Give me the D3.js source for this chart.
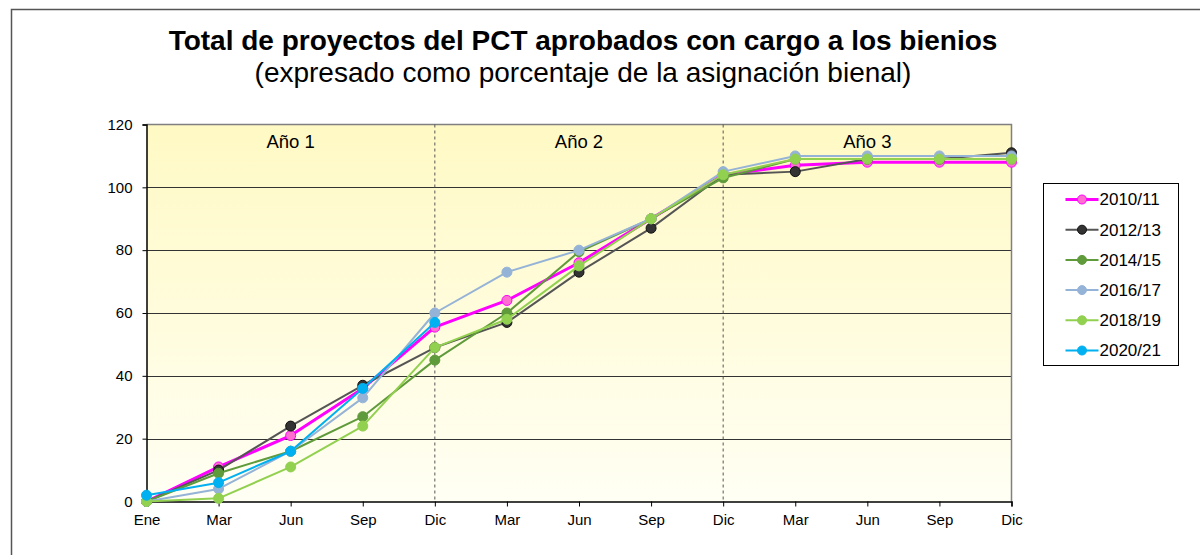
<!DOCTYPE html>
<html>
<head>
<meta charset="utf-8">
<script src="https://cdn.jsdelivr.net/npm/d3@7"></script>
<style>
  body { margin: 0; background: #fff; }
  text { font-family: "Liberation Sans", Arial, sans-serif; fill: #000; }
</style>
</head>
<body>
<script>
// Months along the x axis (three years of a biennium)
const months = ["Ene", "Mar", "Jun", "Sep", "Dic", "Mar", "Jun", "Sep", "Dic", "Mar", "Jun", "Sep", "Dic"];
const yTicks = [0, 20, 40, 60, 80, 100, 120];
const yearLabels = ["Año 1", "Año 2", "Año 3"];

// Series (percent of biennial allocation)
const s2010 = [0, 11, 21, 36, 55.5, 64, 76, 90, 104, 107, 108, 108, 108];
const s2012 = [0, 10, 24, 37, 49, 57, 73, 87, 104, 105, 109, 109, 111];
const s2014 = [0, 9, 16, 27, 45, 60, 79.5, 90, 103, 109, 109, 109, 109];
const s2016 = [0, 4, 16, 33, 60, 73, 80, 90, 105, 110, 110, 110, 110];
const s2018 = [0, 1, 11, 24, 49, 58, 75, 90, 104, 109, 109, 109, 109];
const s2020 = [2, 6, 16, 36, 57];

const series = [
  {name: "2010/11", values: s2010, line: "#ff00ff", fill: "#ff6fd0", stroke: "#ff00ff", w: 3},
  {name: "2012/13", values: s2012, line: "#555555", fill: "#333333", stroke: "#111111", w: 2},
  {name: "2014/15", values: s2014, line: "#5f9a3b", fill: "#5f9a3b", stroke: "#5f9a3b", w: 2},
  {name: "2016/17", values: s2016, line: "#95b3d7", fill: "#95b3d7", stroke: "#95b3d7", w: 2},
  {name: "2018/19", values: s2018, line: "#92d050", fill: "#92d050", stroke: "#92d050", w: 2},
  {name: "2020/21", values: s2020, line: "#00b0f0", fill: "#00b0f0", stroke: "#00b0f0", w: 2}
];

const width = 1200, height = 555;
const plot = {left: 146.5, right: 1011.5, top: 124.5, bottom: 501.5};

const svg = d3.select("body").append("svg")
    .attr("width", width)
    .attr("height", height);

// outer chart frame
svg.append("rect")
    .attr("x", 11.5).attr("y", 9.5)
    .attr("width", 1300).attr("height", 700)
    .attr("fill", "none").attr("stroke", "#555").attr("stroke-width", 1.5);

// background gradient
const grad = svg.append("defs").append("linearGradient")
    .attr("id", "bg").attr("x1", 0).attr("y1", 0).attr("x2", 0).attr("y2", 1);
grad.append("stop").attr("offset", "0%").attr("stop-color", "#fff9c4");
grad.append("stop").attr("offset", "100%").attr("stop-color", "#fffff4");

const x = d3.scalePoint().domain(d3.range(months.length)).range([plot.left, plot.right]);
const y = d3.scaleLinear().domain([0, 120]).range([plot.bottom, plot.top]);

svg.append("rect")
    .attr("x", plot.left).attr("y", plot.top)
    .attr("width", plot.right - plot.left).attr("height", plot.bottom - plot.top)
    .attr("fill", "url(#bg)");

// horizontal gridlines
svg.append("g").selectAll("line")
  .data(yTicks.filter(t => t > 0 && t < 120))
  .enter().append("line")
    .attr("x1", plot.left).attr("x2", plot.right)
    .attr("y1", d => Math.round(y(d)) + 0.5).attr("y2", d => Math.round(y(d)) + 0.5)
    .attr("stroke", "#333").attr("stroke-width", 1.2);

// plot frame top/right
svg.append("path")
    .attr("d", `M${plot.left},${plot.top}H${plot.right}V${plot.bottom}`)
    .attr("fill", "none").attr("stroke", "#808080").attr("stroke-width", 1.5);

// dashed year separators
svg.append("g").selectAll("line")
  .data([4, 8])
  .enter().append("line")
    .attr("x1", d => x(d)).attr("x2", d => x(d))
    .attr("y1", plot.top).attr("y2", plot.bottom)
    .attr("stroke", "#555").attr("stroke-width", 1).attr("stroke-dasharray", "3,3");

// year labels
svg.append("g").selectAll("text")
  .data(yearLabels)
  .enter().append("text")
    .attr("x", (d, i) => (x(i * 4) + x(i * 4 + 4)) / 2)
    .attr("y", 148)
    .attr("text-anchor", "middle")
    .attr("font-size", 18.5)
    .text(d => d);

// axes
const yAxis = svg.append("g")
    .attr("transform", `translate(${plot.left},0)`)
    .call(d3.axisLeft(y).tickValues(yTicks).tickSize(4).tickPadding(10));
yAxis.attr("font-size", 15).attr("font-family", "Liberation Sans, Arial, sans-serif");
yAxis.select(".domain").attr("stroke", "#000").attr("stroke-width", 1.5);
yAxis.selectAll(".tick line").attr("stroke", "#000");

const xAxis = svg.append("g")
    .attr("transform", `translate(0,${plot.bottom})`)
    .call(d3.axisBottom(x).tickFormat(i => months[i]).tickSize(5).tickPadding(8));
xAxis.attr("font-size", 15).attr("font-family", "Liberation Sans, Arial, sans-serif");
xAxis.select(".domain").attr("stroke", "#000").attr("stroke-width", 1.5);
xAxis.selectAll(".tick line").attr("stroke", "#000");

// lines and markers
const line = d3.line().x((d, i) => x(i)).y(d => y(d));

const sg = svg.append("g").selectAll("g.series")
  .data(series)
  .enter().append("g").attr("class", "series");

sg.append("path")
    .attr("d", d => line(d.values))
    .attr("fill", "none")
    .attr("stroke", d => d.line)
    .attr("stroke-width", d => d.w)
    .attr("stroke-linejoin", "round");

sg.each(function(s) {
  d3.select(this).selectAll("circle")
    .data(s.values)
    .enter().append("circle")
      .attr("cx", (d, i) => x(i))
      .attr("cy", d => y(d))
      .attr("r", 5)
      .attr("fill", s.fill)
      .attr("stroke", s.stroke)
      .attr("stroke-width", 1);
});

// legend
const legend = svg.append("g").attr("transform", "translate(1043.5,183.5)");
legend.append("rect")
    .attr("width", 135).attr("height", 182)
    .attr("fill", "#fff").attr("stroke", "#000").attr("stroke-width", 1);

const li = legend.selectAll("g.item")
  .data(series)
  .enter().append("g").attr("class", "item")
    .attr("transform", (d, i) => `translate(0,${16 + i * 30.2})`);
li.append("line")
    .attr("x1", 22).attr("x2", 55)
    .attr("stroke", d => d.line).attr("stroke-width", d => d.w);
li.append("circle")
    .attr("cx", 38.5).attr("r", 4.5)
    .attr("fill", d => d.fill).attr("stroke", d => d.stroke);
li.append("text")
    .attr("x", 56).attr("dy", "0.35em")
    .attr("font-size", 17)
    .text(d => d.name);

// titles
svg.append("text")
    .attr("x", 583).attr("y", 50)
    .attr("text-anchor", "middle")
    .attr("font-size", 28).attr("font-weight", "bold")
    .text("Total de proyectos del PCT aprobados con cargo a los bienios");
svg.append("text")
    .attr("x", 583).attr("y", 82)
    .attr("text-anchor", "middle")
    .attr("font-size", 28)
    .text("(expresado como porcentaje de la asignación bienal)");
</script>
</body>
</html>
